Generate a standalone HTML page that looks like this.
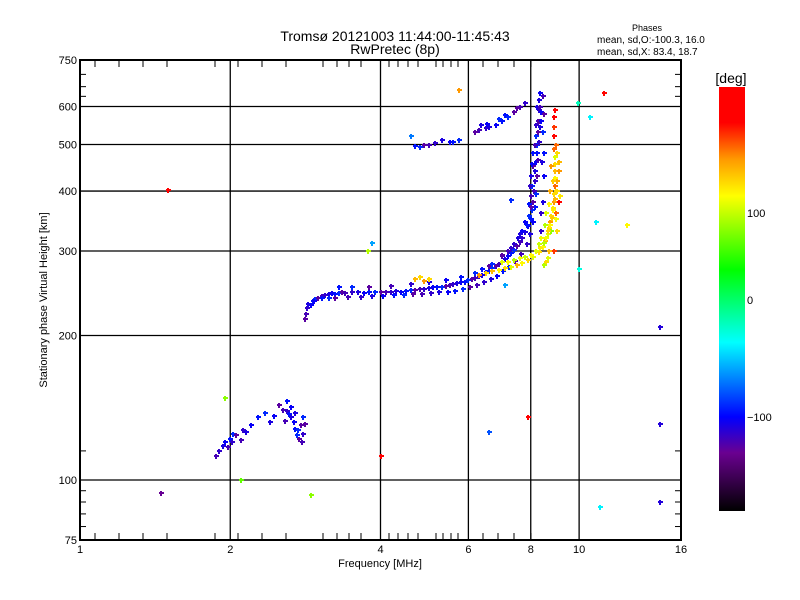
<!DOCTYPE html>
<html><head><meta charset="utf-8"><style>
body{margin:0;background:#fff;width:800px;height:600px;overflow:hidden}
svg{display:block;font-family:"Liberation Sans",sans-serif}
</style></head><body>
<svg id="chart" width="800" height="600">
<text x="395" y="41" font-size="14" text-anchor="middle">Tromsø 20121003 11:44:00-11:45:43</text>
<text x="395" y="54" font-size="14" text-anchor="middle">RwPretec (8p)</text>
<text x="647" y="31" font-size="9" text-anchor="middle">Phases</text>
<text x="597" y="43" font-size="10">mean, sd,O:-100.3, 16.0</text>
<text x="597" y="55" font-size="10">mean, sd,X:  83.4, 18.7</text>
<g id="grid"></g>
<g id="marks"></g>
<g id="axes"></g>
<text x="380" y="567" font-size="11" text-anchor="middle">Frequency [MHz]</text>
<text transform="translate(47,300) rotate(-90)" font-size="11" text-anchor="middle">Stationary phase Virtual Height [km]</text>
<defs><linearGradient id="cmap" x1="0" y1="1" x2="0" y2="0">
<stop offset="0" stop-color="#000"/><stop offset="0.137" stop-color="#6a0090"/><stop offset="0.222" stop-color="#0000ff"/>
<stop offset="0.398" stop-color="#00ffff"/><stop offset="0.569" stop-color="#00ff00"/><stop offset="0.743" stop-color="#ffff00"/>
<stop offset="0.83" stop-color="#ff9900"/><stop offset="0.916" stop-color="#ff0000"/><stop offset="1" stop-color="#ff0000"/>
</linearGradient></defs>
<rect x="719" y="87" width="26" height="424" fill="url(#cmap)"/>
<text x="731" y="83" font-size="14" text-anchor="middle">[deg]</text>
<text x="747" y="217" font-size="11">100</text>
<text x="747" y="304" font-size="11">0</text>
<text x="747" y="421" font-size="11">−100</text>
</svg>
<script>
const xMajor=[1,2,4,6,8,10,16];
const xGrid=[2,4,6,8,10];
const yMajor=[75,100,200,300,400,500,600,750];
const yGrid=[100,200,300,400,500,600];
const yMinor=[80,85,90,95,115,630,660,700];
const xMinorPx=[95,119,143,167,215,238,262,286,323,337,349,361,389,398,408,418,436,443,451,458,483,498,514,531];
// O-mode trace [freq, height]
const oFreq=[2.83,2.84,2.85,2.86,2.9,2.93,2.96,3.0,3.05,3.1,3.15,3.2,3.25,3.3,3.35,3.4,3.5,3.6,3.7,3.8,3.9,4.0,4.1,4.2,4.3,4.4,4.5,4.6,4.7,4.8,4.9,5.0,5.1,5.2,5.3,5.4,5.5,5.6,5.7,5.8,5.9,6.0,6.1,6.2,6.3,6.4,6.5,6.6,6.7,6.8,6.9,7.0,7.1,7.2,7.3,7.4,7.5,7.6,7.7,7.8,7.9,8.0,8.05,8.1,8.12,8.15,8.17,8.2,8.22,8.24,8.26,8.28,8.3,8.32,8.33,
3.3,3.5,3.8,4.2,4.6,5.0,5.4,5.8,6.2,6.6,7.0,7.3,7.6,7.8,7.95,8.05,8.1,8.15,8.2,8.25,
2.95,3.05,3.15,3.25,3.45,3.65,3.85,4.05,4.25,4.45,4.65,4.85,5.05,5.25,5.45,5.65,5.85,6.05,6.25,6.45,6.65,6.85,7.05,7.25,7.45,7.65,7.85,7.98,8.08,8.14,8.18,8.22,8.26,8.3,8.35,8.38,
6.4,6.7,7.0,7.2,7.4,7.55,7.7,7.85,7.95,8.0,8.0,7.98,8.02,8.05,8.1,8.2,8.3,8.35,
8.4,8.45,8.5,8.5,8.48,8.5,8.45,8.4,8.42,8.38,
4.7,4.8,4.9,5.0,5.15,5.3,5.5,5.6,5.75,6.2,6.3,6.5,6.6,6.8,7.0,7.2,7.4,7.6,7.8,6.35,6.55,7.1,6.9,7.5,
1.87,1.9,1.93,1.95,2.0,2.03,2.05,2.1,2.12,2.15,2.2,2.27,2.35,2.5,2.55,2.6,2.65,2.68,2.7,2.72,2.75,2.78,2.8,2.7,2.65,2.6,2.8,2.77,1.98,2.02,2.4,2.45,2.62,2.74,2.82,2.58];
const oHeight=[216,222,228,233,232,236,238,240,242,243,244,245,244,245,246,245,246,246,245,246,246,247,246,247,248,247,248,249,249,250,250,251,252,252,253,254,255,256,257,258,259,261,262,264,266,268,271,273,276,279,282,285,289,293,297,302,307,313,320,328,338,350,365,380,400,420,440,460,480,500,530,560,590,620,640,
252,253,253,254,256,258,261,265,270,279,293,305,325,345,375,410,450,500,550,600,
236,239,240,240,241,241,242,242,243,243,244,244,245,246,247,248,250,252,255,258,262,266,272,278,286,296,310,325,345,370,395,430,465,505,545,585,
275,282,295,300,310,320,330,340,355,370,390,410,430,455,480,520,560,600,
330,380,430,480,530,580,630,360,460,560,
497,495,500,498,503,510,505,507,512,530,535,540,545,550,560,570,585,600,610,548,552,575,565,595,
112,115,118,120,122,125,124,121,127,126,130,135,138,143,140,139,135,132,128,124,122,120,125,138,142,146,135,130,117,120,132,136,137,127,131,133];
const oPhase=-108;
// X-mode trace
const xFreq=[4.7,4.8,4.9,5.0,6.3,6.5,6.7,6.9,7.1,7.3,7.5,7.7,7.9,8.1,8.3,8.45,8.55,8.65,8.7,8.75,8.8,8.85,8.9,8.92,8.95,8.95,8.93,8.95,8.95,8.9,8.9,8.9,8.92,8.95,8.7,8.6,8.8,9.0,9.05,9.1,
7.0,7.2,7.4,7.6,7.8,8.0,8.2,8.35,8.5,8.6,8.68,8.75,8.82,8.88,8.95,9.0,9.05,9.1,9.1,9.05,9.0,9.15,8.85,8.8,8.75,8.6,8.55,8.4,8.3,8.9,9.05,8.98,8.7,8.65,8.5];
const xHeight=[262,265,260,262,268,270,272,274,276,278,280,283,287,292,298,306,315,325,335,345,355,365,380,395,410,425,440,455,470,490,520,545,570,590,300,285,330,360,400,380,
284,285,288,290,292,295,300,305,312,320,330,340,352,368,385,400,420,440,460,480,350,390,420,450,400,360,340,320,310,300,330,500,375,290,280];
const xPhase=[110,100,120,100,120,100,110,90,100,80,110,90,100,80,100,90,110,80,100,120,100,90,120,100,130,90,110,100,80,130,150,140,170,160,110,100,60,130,100,150,
80,90,70,85,75,90,80,95,70,85,100,90,105,95,110,100,115,120,110,100,85,95,105,120,115,80,70,85,75,140,100,130,90,80,70];
// isolated points
const sFreq=[1.45,1.5,1.95,2.1,2.9,4.0,3.77,3.85,4.6,5.75,6.6,7.1,7.9,7.3,10.5,10.8,11,11.2,12.5,14.5,14.5,14.5,10.0,9.95];
const sHeight=[94,402,148,100,93,112,300,312,520,650,126,255,135,384,570,345,88,640,340,208,131,90,275,610];
const sPhase=[-130,160,60,50,60,160,70,-60,-70,120,-80,-60,170,-90,-40,-40,-40,150,90,-110,-110,-110,-30,-20];

const X0=80,X1=681,Y0=60,Y1=540;
const xs=f=>X0+(X1-X0)*Math.log2(f)/4;
const ys=h=>Y1-(Y1-Y0)*Math.log10(h/75);
const NS="http://www.w3.org/2000/svg";
function mk(t,a,p){const e=document.createElementNS(NS,t);for(const k in a)e.setAttribute(k,a[k]);p.appendChild(e);return e;}
const stops=[[-180,[0,0,0]],[-131,[106,0,144]],[-100,[0,0,255]],[-37,[0,255,255]],[26,[0,255,0]],[88,[255,255,0]],[120,[255,153,0]],[151,[255,0,0]],[181,[255,0,0]]];
function col(v){for(let i=0;i<stops.length-1;i++){const a=stops[i],b=stops[i+1];if(v<=b[0]){const t=Math.max(0,(v-a[0])/(b[0]-a[0]));return 'rgb('+a[1].map((c,j)=>Math.round(c+(b[1][j]-c)*t)).join(',')+')';}}return 'red';}
const grid=document.getElementById('grid'),marks=document.getElementById('marks'),axes=document.getElementById('axes');
xGrid.forEach(f=>{const l=mk('line',{x1:xs(f),x2:xs(f),y1:Y0,y2:Y1,stroke:'#000','stroke-width':1.3},grid);

});
yGrid.forEach(h=>{const l=mk('line',{x1:X0,x2:X1,y1:ys(h),y2:ys(h),stroke:'#000','stroke-width':1.3},grid);

});
function plus(f,h,p,name){const g=mk('g',{fill:col(p)},marks);


const x=Math.round(xs(f)),y=Math.round(ys(h));
mk('rect',{x:x-2,y:y-1,width:5,height:2},g);mk('rect',{x:x-1,y:y-2,width:2,height:5},g);}
oFreq.forEach((f,i)=>plus(f,oHeight[i],oPhase+(i%7)*6-18,'o-mode-point'));
xFreq.forEach((f,i)=>plus(f,xHeight[i],xPhase[i],'x-mode-point'));
sFreq.forEach((f,i)=>plus(f,sHeight[i],sPhase[i],'outlier-point'));
mk('rect',{x:X0,y:Y0,width:X1-X0,height:Y1-Y0,fill:'none',stroke:'#000','stroke-width':2},axes);
xMajor.forEach(f=>{const t=mk('text',{x:xs(f),y:553,'font-size':11,'text-anchor':'middle'},axes);t.textContent=f;

});
xMinorPx.forEach(px=>{mk('line',{x1:px,x2:px,y1:Y1,y2:Y1-7,stroke:'#000'},axes);mk('line',{x1:px,x2:px,y1:Y0,y2:Y0+7,stroke:'#000'},axes);});
yMajor.forEach(h=>{const t=mk('text',{x:X0-3,y:ys(h)+4,'font-size':11,'text-anchor':'end'},axes);t.textContent=h;

});
yMinor.forEach(h=>{const y=ys(h);mk('line',{x1:X0,x2:X0+6,y1:y,y2:y,stroke:'#000'},axes);mk('line',{x1:X1,x2:X1-6,y1:y,y2:y,stroke:'#000'},axes);});
</script>
</body></html>
